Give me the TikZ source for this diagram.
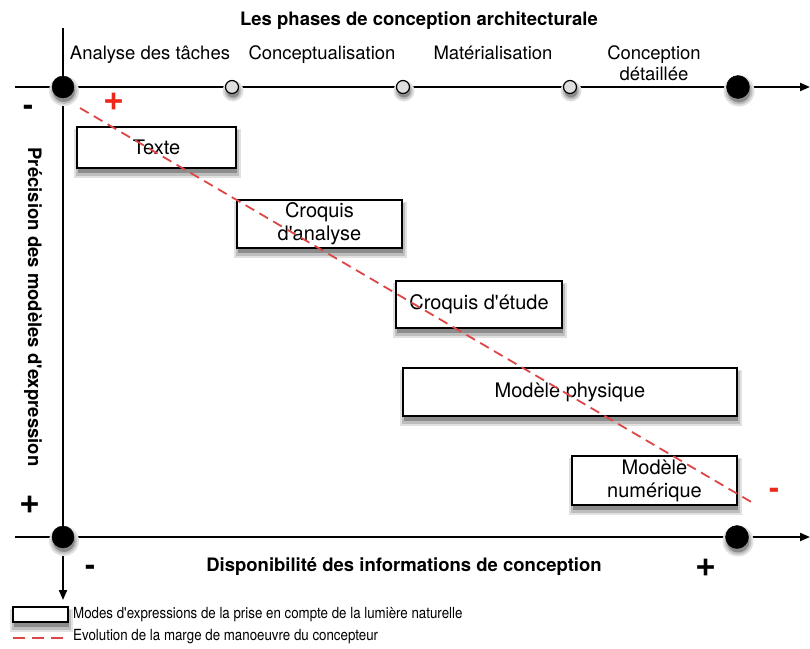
\documentclass[tikz,border=0pt]{standalone}
\usepackage{fontspec}
\setmainfont{TeX Gyre Heros}[Ligatures=TeXOff]
\newfontfamily\narrowfont{TeX Gyre Heros}[FakeStretch=0.87,Ligatures=TeXOff]
\usetikzlibrary{arrows.meta}
\definecolor{dashred}{RGB}{222,70,70}
\definecolor{signred}{RGB}{238,40,24}
\definecolor{shA}{RGB}{225,225,225}
\definecolor{shB}{RGB}{190,190,190}
\definecolor{shC}{RGB}{140,140,140}
\newcommand\myboxshade[4]{%
  \path[fill=shA] (#1-3,#2+2) rectangle (#3+5,#4+10);
  \path[fill=shB] (#1-1,#2+3) rectangle (#3+3,#4+8);
  \path[fill=shC] (#1+1,#2+4) rectangle (#3+1,#4+5);}
\newcommand\mydotshade[3]{%
  \path[fill=shA] (#1+1,#2+4) circle[radius={#3+4}];
  \path[fill=shB] (#1+1,#2+4) circle[radius={#3+2}];
  \path[fill=shC] (#1+1,#2+4) circle[radius={#3}];}
\begin{document}
\begin{tikzpicture}[x=1pt,y=-1pt,
  axis/.style={line width=2pt,-{Triangle[length=10pt,width=8pt]}},
  bigdot/.style={circle,fill=black,draw=black,minimum size=22pt,inner sep=0pt},
  smalldot/.style={circle,fill=gray!25,draw=black,line width=1.2pt,minimum size=13pt,inner sep=0pt},
  mode/.style={draw=black,line width=1.5pt,fill=white,align=center,inner sep=0pt,
    font=\fontsize{20}{23}\selectfont},
  phase/.style={font=\fontsize{18.5}{21}\selectfont,align=center},
  ttl/.style={font=\bfseries\fontsize{18.5}{21}\selectfont},
  sign/.style={font=\bfseries\fontsize{36}{38}\selectfont,inner sep=0pt},
  minus/.style={font=\bfseries\fontsize{30}{32}\selectfont,inner sep=0pt},
  evol/.style={dashred,line width=1.8pt,dash pattern=on 10pt off 6pt},
  legtext/.style={font=\narrowfont\fontsize{15.3}{17}\selectfont,anchor=west,inner sep=0pt}
]
\useasboundingbox (0,0) rectangle (810,648);

% soft shadows (drawn first, behind everything)
\myboxshade{77}{127}{236}{168}
\myboxshade{237}{200}{402}{248}
\myboxshade{396}{281}{562}{328}
\myboxshade{403}{368}{737}{416}
\myboxshade{572}{456}{737}{505}
\myboxshade{13}{607}{68}{622}

% axes
\coordinate (tl) at (15,87);
\coordinate (tr) at (810,87);
\coordinate (vt) at (63,28);
\coordinate (vb) at (63,600);
\coordinate (bl) at (15,537);
\coordinate (br) at (810,537);
\draw[axis] (tl) -- (tr);
\draw[axis] (vt) -- (vb);
\draw[axis] (bl) -- (br);

% dot shadows
\mydotshade{63}{87}{11}
\mydotshade{232}{87}{6.5}
\mydotshade{403}{87}{6.5}
\mydotshade{570}{87}{6.5}
\mydotshade{738}{87}{11.5}
\mydotshade{63}{537}{11}
\mydotshade{737}{537}{11.5}

% dots
\node[bigdot] (d0) at (63,87) {};
\node[smalldot] (d1) at (232,87) {};
\node[smalldot] (d2) at (403,87) {};
\node[smalldot] (d3) at (570,87) {};
\node[bigdot,minimum size=23pt] (d4) at (738,87) {};
\node[bigdot] (b0) at (63,537) {};
\node[bigdot,minimum size=23pt] (b1) at (737,537) {};

% titles
\node[ttl] (title) at (419,21) {Les phases de conception architecturale};
\node[phase] (p1) at (150,55) {Analyse des tâches};
\node[phase] (p2) at (322,55) {Conceptualisation};
\node[phase] (p3) at (493,53) {Matérialisation};
\node[phase] (p4) at (654,63.5) {Conception\\détaillée};
\node[ttl,rotate=-90] (vlab) at (33,307) {Précision des modèles d'expression};
\node[ttl] (hlab) at (404,567) {Disponibilité des informations de conception};

% signs
\node[minus] (m1) at (28,110) {-};
\node[sign] (pl1) at (30,505) {+};
\node[sign,text=signred] (pl2) at (114,102) {+};
\node[minus,text=signred] (m2) at (774,493) {-};
\node[minus] (m3) at (90,570) {-};
\node[sign] (pl3) at (706,568) {+};

% modes
\node[mode,minimum width=159pt,minimum height=41pt] (texte) at (156.5,147.5) {Texte};
\node[mode,minimum width=165pt,minimum height=48pt] (ca) at (319.5,224) {Croquis\\d'analyse};
\node[mode,minimum width=166pt,minimum height=47pt] (ce) at (479,304.5) {Croquis d'étude};
\node[mode,minimum width=334pt,minimum height=48pt] (mp) at (570,392) {Modèle physique};
\node[mode,minimum width=165pt,minimum height=49pt] (mn) at (654.5,480.5) {Modèle\\numérique};

% evolution line
\coordinate (e0) at (80,108);
\coordinate (e1) at (753,503);
\draw[evol] (e0) -- (e1);

% legend
\node[draw=black,line width=1.5pt,fill=white,minimum width=55pt,minimum height=15pt,inner sep=0pt] (lbox) at (40.5,614.5) {};
\node[legtext] (lt1) at (73,615) {Modes d'expressions de la prise en compte de la lumière naturelle};
\coordinate (l0) at (13,638);
\coordinate (l1) at (68,638);
\draw[dashred,line width=1.8pt,dash pattern=on 12pt off 7pt] (l0) -- (l1);
\node[legtext] (lt2) at (73,637) {Evolution de la marge de manoeuvre du concepteur};
\end{tikzpicture}
\end{document}
